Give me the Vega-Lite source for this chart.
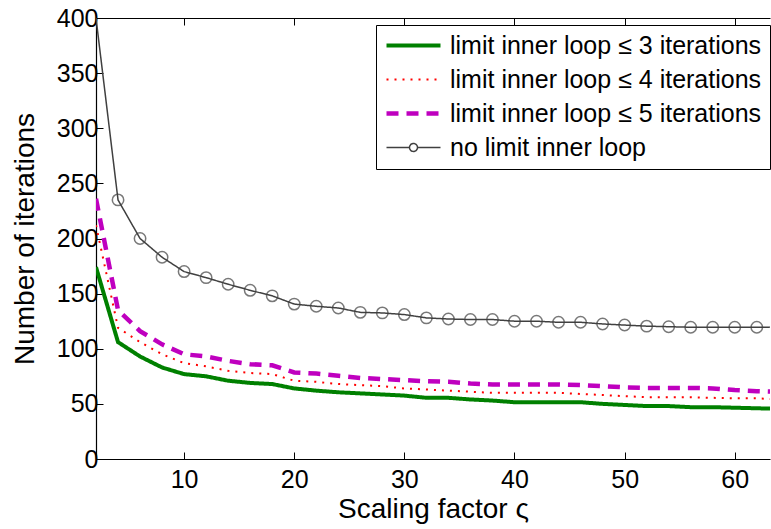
{
  "$schema": "https://vega.github.io/schema/vega-lite/v6.json",
  "width": 674,
  "height": 441,
  "autosize": {"type": "none"},
  "padding": {"left": 96, "top": 18, "right": 1, "bottom": 70},
  "background": "white",
  "config": {
    "view": {"stroke": null},
    "font": "Liberation Sans",
    "axis": {
      "grid": false,
      "domainColor": "#000",
      "domainWidth": 1.2,
      "tickColor": "#000",
      "tickWidth": 1,
      "tickSize": -7,
      "labelColor": "#000",
      "titleColor": "#000",
      "labelFont": "Liberation Sans",
      "titleFont": "Liberation Sans",
      "labelFontSize": 25,
      "titleFontSize": 28,
      "titleFontWeight": "normal"
    }
  },
  "data": {
    "values": [
      {"x": 2, "s": "limit inner loop ≤ 3 iterations", "v": 174},
      {"x": 4, "s": "limit inner loop ≤ 3 iterations", "v": 106},
      {"x": 6, "s": "limit inner loop ≤ 3 iterations", "v": 93},
      {"x": 8, "s": "limit inner loop ≤ 3 iterations", "v": 83},
      {"x": 10, "s": "limit inner loop ≤ 3 iterations", "v": 77},
      {"x": 12, "s": "limit inner loop ≤ 3 iterations", "v": 75},
      {"x": 14, "s": "limit inner loop ≤ 3 iterations", "v": 71},
      {"x": 16, "s": "limit inner loop ≤ 3 iterations", "v": 69},
      {"x": 18, "s": "limit inner loop ≤ 3 iterations", "v": 68},
      {"x": 20, "s": "limit inner loop ≤ 3 iterations", "v": 64},
      {"x": 22, "s": "limit inner loop ≤ 3 iterations", "v": 62},
      {"x": 24, "s": "limit inner loop ≤ 3 iterations", "v": 60.5},
      {"x": 26, "s": "limit inner loop ≤ 3 iterations", "v": 59.5},
      {"x": 28, "s": "limit inner loop ≤ 3 iterations", "v": 58.5},
      {"x": 30, "s": "limit inner loop ≤ 3 iterations", "v": 57.5},
      {"x": 32, "s": "limit inner loop ≤ 3 iterations", "v": 55.5},
      {"x": 34, "s": "limit inner loop ≤ 3 iterations", "v": 55.5},
      {"x": 36, "s": "limit inner loop ≤ 3 iterations", "v": 54},
      {"x": 38, "s": "limit inner loop ≤ 3 iterations", "v": 53},
      {"x": 40, "s": "limit inner loop ≤ 3 iterations", "v": 51.5},
      {"x": 42, "s": "limit inner loop ≤ 3 iterations", "v": 51.5},
      {"x": 44, "s": "limit inner loop ≤ 3 iterations", "v": 51.5},
      {"x": 46, "s": "limit inner loop ≤ 3 iterations", "v": 51.5},
      {"x": 48, "s": "limit inner loop ≤ 3 iterations", "v": 50},
      {"x": 50, "s": "limit inner loop ≤ 3 iterations", "v": 49},
      {"x": 52, "s": "limit inner loop ≤ 3 iterations", "v": 48},
      {"x": 54, "s": "limit inner loop ≤ 3 iterations", "v": 48},
      {"x": 56, "s": "limit inner loop ≤ 3 iterations", "v": 47},
      {"x": 58, "s": "limit inner loop ≤ 3 iterations", "v": 47},
      {"x": 60, "s": "limit inner loop ≤ 3 iterations", "v": 46.5},
      {"x": 62, "s": "limit inner loop ≤ 3 iterations", "v": 46},
      {"x": 64, "s": "limit inner loop ≤ 3 iterations", "v": 45.5},
      {"x": 2, "s": "limit inner loop ≤ 4 iterations", "v": 212},
      {"x": 4, "s": "limit inner loop ≤ 4 iterations", "v": 119},
      {"x": 6, "s": "limit inner loop ≤ 4 iterations", "v": 106},
      {"x": 8, "s": "limit inner loop ≤ 4 iterations", "v": 95},
      {"x": 10, "s": "limit inner loop ≤ 4 iterations", "v": 87},
      {"x": 12, "s": "limit inner loop ≤ 4 iterations", "v": 84},
      {"x": 14, "s": "limit inner loop ≤ 4 iterations", "v": 80},
      {"x": 16, "s": "limit inner loop ≤ 4 iterations", "v": 78},
      {"x": 18, "s": "limit inner loop ≤ 4 iterations", "v": 77},
      {"x": 20, "s": "limit inner loop ≤ 4 iterations", "v": 71},
      {"x": 22, "s": "limit inner loop ≤ 4 iterations", "v": 70},
      {"x": 24, "s": "limit inner loop ≤ 4 iterations", "v": 68},
      {"x": 26, "s": "limit inner loop ≤ 4 iterations", "v": 67},
      {"x": 28, "s": "limit inner loop ≤ 4 iterations", "v": 66},
      {"x": 30, "s": "limit inner loop ≤ 4 iterations", "v": 64},
      {"x": 32, "s": "limit inner loop ≤ 4 iterations", "v": 63},
      {"x": 34, "s": "limit inner loop ≤ 4 iterations", "v": 62},
      {"x": 36, "s": "limit inner loop ≤ 4 iterations", "v": 61},
      {"x": 38, "s": "limit inner loop ≤ 4 iterations", "v": 60},
      {"x": 40, "s": "limit inner loop ≤ 4 iterations", "v": 60},
      {"x": 42, "s": "limit inner loop ≤ 4 iterations", "v": 60},
      {"x": 44, "s": "limit inner loop ≤ 4 iterations", "v": 60},
      {"x": 46, "s": "limit inner loop ≤ 4 iterations", "v": 59},
      {"x": 48, "s": "limit inner loop ≤ 4 iterations", "v": 58},
      {"x": 50, "s": "limit inner loop ≤ 4 iterations", "v": 57},
      {"x": 52, "s": "limit inner loop ≤ 4 iterations", "v": 56},
      {"x": 54, "s": "limit inner loop ≤ 4 iterations", "v": 56},
      {"x": 56, "s": "limit inner loop ≤ 4 iterations", "v": 56},
      {"x": 58, "s": "limit inner loop ≤ 4 iterations", "v": 55.5},
      {"x": 60, "s": "limit inner loop ≤ 4 iterations", "v": 55},
      {"x": 62, "s": "limit inner loop ≤ 4 iterations", "v": 55},
      {"x": 64, "s": "limit inner loop ≤ 4 iterations", "v": 54},
      {"x": 2, "s": "limit inner loop ≤ 5 iterations", "v": 236},
      {"x": 4, "s": "limit inner loop ≤ 5 iterations", "v": 135},
      {"x": 6, "s": "limit inner loop ≤ 5 iterations", "v": 116},
      {"x": 8, "s": "limit inner loop ≤ 5 iterations", "v": 104},
      {"x": 10, "s": "limit inner loop ≤ 5 iterations", "v": 95},
      {"x": 12, "s": "limit inner loop ≤ 5 iterations", "v": 93},
      {"x": 14, "s": "limit inner loop ≤ 5 iterations", "v": 89},
      {"x": 16, "s": "limit inner loop ≤ 5 iterations", "v": 86},
      {"x": 18, "s": "limit inner loop ≤ 5 iterations", "v": 85},
      {"x": 20, "s": "limit inner loop ≤ 5 iterations", "v": 78.5},
      {"x": 22, "s": "limit inner loop ≤ 5 iterations", "v": 77.5},
      {"x": 24, "s": "limit inner loop ≤ 5 iterations", "v": 75.5},
      {"x": 26, "s": "limit inner loop ≤ 5 iterations", "v": 73.5},
      {"x": 28, "s": "limit inner loop ≤ 5 iterations", "v": 72.5},
      {"x": 30, "s": "limit inner loop ≤ 5 iterations", "v": 71.5},
      {"x": 32, "s": "limit inner loop ≤ 5 iterations", "v": 70.5},
      {"x": 34, "s": "limit inner loop ≤ 5 iterations", "v": 70},
      {"x": 36, "s": "limit inner loop ≤ 5 iterations", "v": 68.5},
      {"x": 38, "s": "limit inner loop ≤ 5 iterations", "v": 67.5},
      {"x": 40, "s": "limit inner loop ≤ 5 iterations", "v": 67.5},
      {"x": 42, "s": "limit inner loop ≤ 5 iterations", "v": 67.5},
      {"x": 44, "s": "limit inner loop ≤ 5 iterations", "v": 67.5},
      {"x": 46, "s": "limit inner loop ≤ 5 iterations", "v": 67},
      {"x": 48, "s": "limit inner loop ≤ 5 iterations", "v": 66},
      {"x": 50, "s": "limit inner loop ≤ 5 iterations", "v": 65},
      {"x": 52, "s": "limit inner loop ≤ 5 iterations", "v": 64.5},
      {"x": 54, "s": "limit inner loop ≤ 5 iterations", "v": 64.5},
      {"x": 56, "s": "limit inner loop ≤ 5 iterations", "v": 64.5},
      {"x": 58, "s": "limit inner loop ≤ 5 iterations", "v": 64},
      {"x": 60, "s": "limit inner loop ≤ 5 iterations", "v": 62.5},
      {"x": 62, "s": "limit inner loop ≤ 5 iterations", "v": 61.5},
      {"x": 64, "s": "limit inner loop ≤ 5 iterations", "v": 61},
      {"x": 2, "s": "no limit inner loop", "v": 400},
      {"x": 4, "s": "no limit inner loop", "v": 235},
      {"x": 6, "s": "no limit inner loop", "v": 200},
      {"x": 8, "s": "no limit inner loop", "v": 183},
      {"x": 10, "s": "no limit inner loop", "v": 170},
      {"x": 12, "s": "no limit inner loop", "v": 164.5},
      {"x": 14, "s": "no limit inner loop", "v": 158.5},
      {"x": 16, "s": "no limit inner loop", "v": 153},
      {"x": 18, "s": "no limit inner loop", "v": 148},
      {"x": 20, "s": "no limit inner loop", "v": 140.5},
      {"x": 22, "s": "no limit inner loop", "v": 138.5},
      {"x": 24, "s": "no limit inner loop", "v": 137},
      {"x": 26, "s": "no limit inner loop", "v": 133},
      {"x": 28, "s": "no limit inner loop", "v": 132.5},
      {"x": 30, "s": "no limit inner loop", "v": 131},
      {"x": 32, "s": "no limit inner loop", "v": 128},
      {"x": 34, "s": "no limit inner loop", "v": 127},
      {"x": 36, "s": "no limit inner loop", "v": 126.5},
      {"x": 38, "s": "no limit inner loop", "v": 126.5},
      {"x": 40, "s": "no limit inner loop", "v": 125},
      {"x": 42, "s": "no limit inner loop", "v": 125},
      {"x": 44, "s": "no limit inner loop", "v": 124},
      {"x": 46, "s": "no limit inner loop", "v": 124},
      {"x": 48, "s": "no limit inner loop", "v": 122.5},
      {"x": 50, "s": "no limit inner loop", "v": 121.5},
      {"x": 52, "s": "no limit inner loop", "v": 120.5},
      {"x": 54, "s": "no limit inner loop", "v": 120},
      {"x": 56, "s": "no limit inner loop", "v": 119.5},
      {"x": 58, "s": "no limit inner loop", "v": 119.5},
      {"x": 60, "s": "no limit inner loop", "v": 119.5},
      {"x": 62, "s": "no limit inner loop", "v": 119.5},
      {"x": 64, "s": "no limit inner loop", "v": 119.5}
    ]
  },
  "resolve": {"axis": {"x": "independent", "y": "independent"}},
  "layer": [
    {
      "mark": {"type": "line", "clip": true},
      "encoding": {
        "x": {
          "field": "x", "type": "quantitative",
          "scale": {"domain": [2, 63.2], "nice": false, "zero": false},
          "axis": {"values": [10, 20, 30, 40, 50, 60], "title": "Scaling factor ς", "labelPadding": 15, "titlePadding": 3}
        },
        "y": {
          "field": "v", "type": "quantitative",
          "scale": {"domain": [0, 400], "nice": false},
          "axis": {"values": [0, 50, 100, 150, 200, 250, 300, 350, 400], "title": "Number of iterations", "labelPadding": 5, "titlePadding": 17}
        },
        "color": {
          "field": "s", "type": "nominal",
          "scale": {
            "domain": ["limit inner loop ≤ 3 iterations", "limit inner loop ≤ 4 iterations", "limit inner loop ≤ 5 iterations", "no limit inner loop"],
            "range": ["#008000", "#ff0000", "#bf00bf", "#404040"]
          },
          "legend": {
            "title": null,
            "orient": "none",
            "legendX": 280,
            "legendY": 7,
            "strokeColor": "#000",
            "fillColor": "#fff",
            "padding": 8,
            "labelFontSize": 25,
            "labelFont": "Liberation Sans",
            "labelColor": "#000",
            "labelLimit": 500,
            "symbolType": "M-1,0H4.4",
            "symbolSize": 400,
            "rowPadding": 8,
            "labelOffset": 41,
            "encode": {
              "symbols": {
                "update": {
                  "fill": {"value": "transparent"},
                  "shape": {"signal": "datum.value === 'no limit inner loop' ? 'M-1,0H1.3M2.1,0H4.4M2.1,0A0.4,0.4,0,1,1,1.3,0A0.4,0.4,0,1,1,2.1,0' : 'M-1,0H4.4'"},
                  "strokeDash": {"signal": "datum.value === 'limit inner loop ≤ 4 iterations' ? [2,6] : (datum.value === 'limit inner loop ≤ 5 iterations' ? [12,8] : [1,0])"},
                  "strokeWidth": {"signal": "datum.value === 'limit inner loop ≤ 3 iterations' ? 4 : (datum.value === 'limit inner loop ≤ 5 iterations' ? 4.5 : (datum.value === 'no limit inner loop' ? 1.5 : 2))"}
                }
              }
            }
          }
        },
        "strokeDash": {
          "field": "s", "type": "nominal",
          "scale": {
            "domain": ["limit inner loop ≤ 3 iterations", "limit inner loop ≤ 4 iterations", "limit inner loop ≤ 5 iterations", "no limit inner loop"],
            "range": [[1, 0], [2, 6], [12, 8], [1, 0]]
          },
          "legend": null
        },
        "strokeWidth": {
          "field": "s", "type": "nominal",
          "scale": {
            "type": "ordinal",
            "domain": ["limit inner loop ≤ 3 iterations", "limit inner loop ≤ 4 iterations", "limit inner loop ≤ 5 iterations", "no limit inner loop"],
            "range": [4, 2, 4.5, 1.5]
          },
          "legend": null
        }
      }
    },
    {
      "transform": [
        {"filter": {"field": "s", "equal": "no limit inner loop"}},
        {"filter": {"field": "x", "gte": 4}}
      ],
      "mark": {"type": "point", "shape": "circle", "filled": false, "size": 130, "strokeWidth": 1.5, "color": "#404040", "clip": true},
      "encoding": {
        "x": {
          "field": "x", "type": "quantitative",
          "axis": {"orient": "top", "values": [10, 20, 30, 40, 50, 60], "labels": false, "title": null}
        },
        "y": {
          "field": "v", "type": "quantitative",
          "axis": null
        }
      }
    }
  ]
}
